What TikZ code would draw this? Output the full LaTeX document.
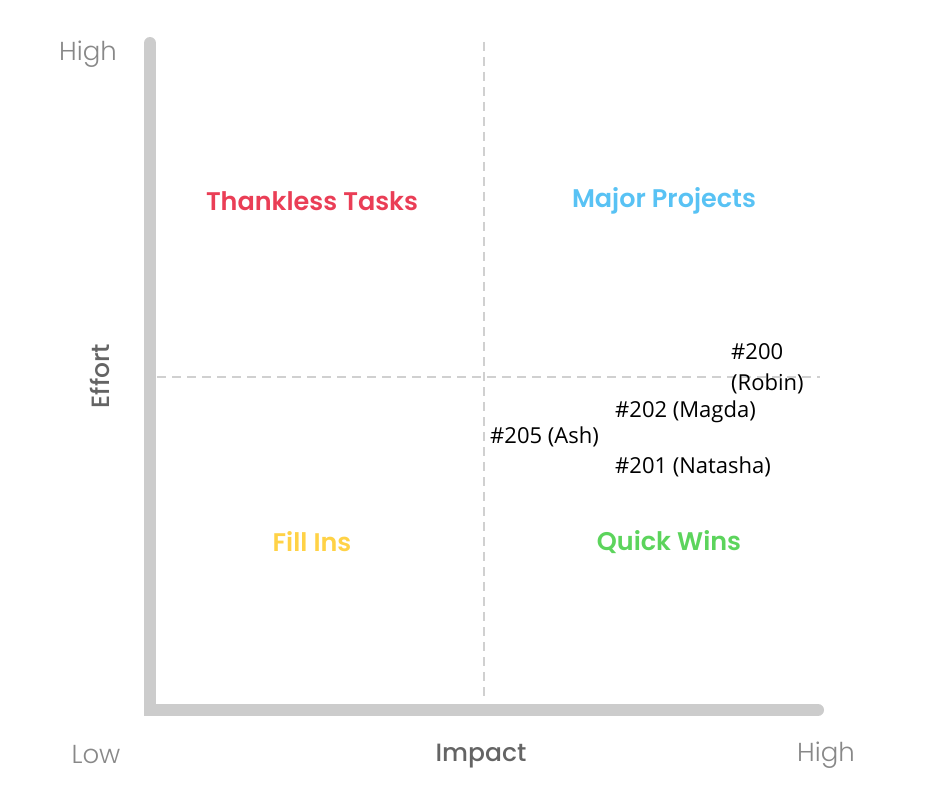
\documentclass[tikz,border=0pt]{standalone}
\usepackage{fontspec}
\setmainfont{Open Sans}
\newfontfamily\quadfont{Poppins}[UprightFont=* Light, BoldFont=* Medium]
\newfontfamily\quadbold{Poppins SemiBold}
\usetikzlibrary{positioning}
\definecolor{axisgray}{RGB}{204, 204, 204}
\definecolor{dashgray}{RGB}{208, 208, 208}
\definecolor{tickgray}{RGB}{136, 136, 136}
\definecolor{titlegray}{RGB}{100, 100, 100}
\definecolor{thanklessred}{RGB}{234, 62, 86}
\definecolor{majorblue}{RGB}{88, 194, 244}
\definecolor{fillyellow}{RGB}{255, 210, 70}
\definecolor{quickgreen}{RGB}{92, 212, 92}
\tikzset{
    axisline/.style ={draw=axisgray, line width=12pt},
    divider/.style  ={draw=dashgray, line width=2pt, dash pattern=on 9pt off 6pt},
    tick/.style     ={font=\quadfont\fontsize{26}{28}\selectfont, text=tickgray, inner sep=0pt},
    axtitle/.style  ={font=\quadfont\fontsize{25}{28}\selectfont\bfseries, text=titlegray, inner sep=0pt},
    quad/.style     ={font=\quadbold\fontsize{25.5}{28}\selectfont, inner sep=0pt},
    item/.style     ={font=\fontsize{22}{31}\selectfont, anchor=west, inner sep=0pt, align=left}
}
\begin{document}
\begin{tikzpicture}[x=1pt, y=-1pt]
  \useasboundingbox (0,0) rectangle (942,800);
  % axes
  \coordinate (top) at (150,43);
  \coordinate (corner) at (150,710);
  \coordinate (right) at (818,710);
  \draw[divider] (484,42) coordinate (vtop) -- (484,700) coordinate (vbot);
  \draw[divider] (157,377) coordinate (hleft) -- (820,377) coordinate (hright);
  \draw[axisline, line cap=round] (top) -- (corner) -- (right);
  \fill[axisgray] (144,704) rectangle (156,716);

  % axis labels
  \node[tick] (effhigh) at (88,54) {High};
  \node[axtitle, rotate=90] (effort) at (100,376) {Effort};
  \node[tick] (implow) at (96,755) {Low};
  \node[axtitle] (impact) at (481,756) {Impact};
  \node[tick] (imphigh) at (826,755) {High};

  % quadrants
  \node[quad, text=thanklessred] (thankless) at (312,201) {Thankless Tasks};
  \node[quad, text=majorblue] (major) at (664,201) {Major Projects};
  \node[quad, text=fillyellow] (fillins) at (312,542) {Fill Ins};
  \node[quad, text=quickgreen] (quick) at (669,542) {Quick Wins};

  % items
  \node[item] (t200) at (731,369) {\#200\\(Robin)};
  \node[item] (t202) at (615,412) {\#202 (Magda)};
  \node[item] (t205) at (490,437) {\#205 (Ash)};
  \node[item] (t201) at (615,467) {\#201 (Natasha)};
\end{tikzpicture}
\end{document}
